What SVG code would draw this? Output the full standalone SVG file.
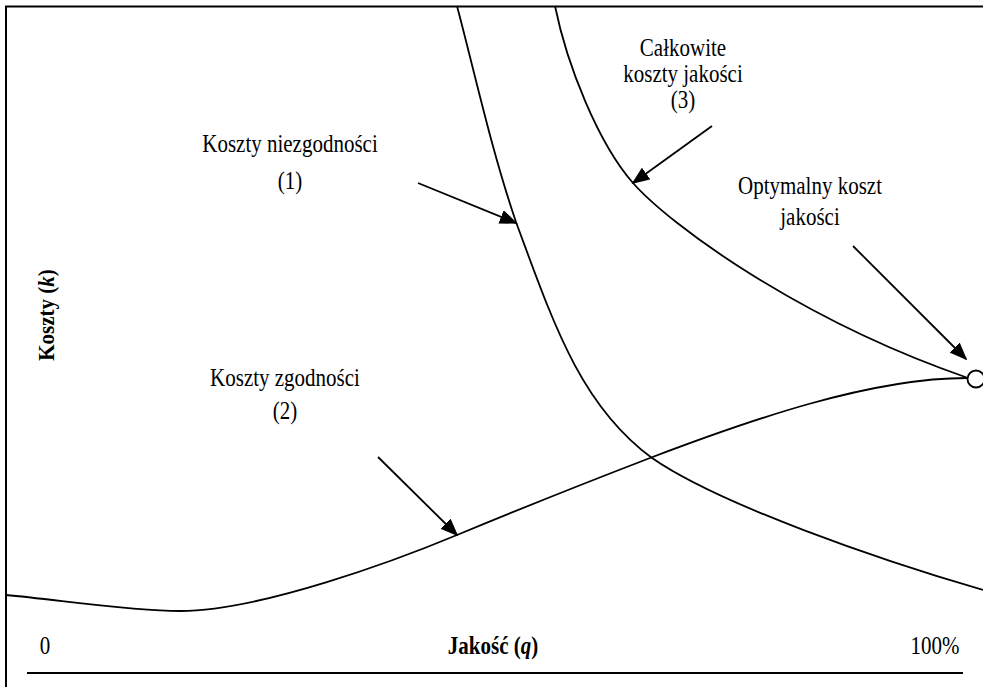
<svg xmlns="http://www.w3.org/2000/svg" width="983" height="687" viewBox="0 0 983 687">
<style>
.frame{fill:none;stroke:#000;stroke-width:2}
.curve{fill:none;stroke:#000;stroke-width:1.8}
.arrow{fill:none;stroke:#000;stroke-width:1.8;marker-end:url(#ah)}
text{font-family:"Liberation Serif","DejaVu Serif","Times New Roman",serif;font-size:21px;fill:#000;text-anchor:middle}
.b{font-weight:bold}
</style>
<defs>
<marker id="ah" markerWidth="10" markerHeight="8" refX="9" refY="4" orient="auto" markerUnits="strokeWidth">
<path d="M0,0 L10,4 L0,8 Z" fill="#000"/>
</marker>
</defs>
<rect width="983" height="687" fill="#fff"/>
<g id="frame">
<path class="frame" d="M6,687 V6.5 H983"/>
<line x1="27" y1="673" x2="963" y2="673" stroke="#000" stroke-width="2"/>
</g>
<g id="curves">
<path id="c1" class="curve" d="M457,6 C476,78 491.5,150 516,222 C553,322 580,405 652,458 C720,505 880,560 983,590"/>
<path id="c3" class="curve" d="M555,6 C567,65 598,143 633,183 C670,225 800,320 968,378"/>
<path id="c2" class="curve" d="M6,595 C60,600 130,611 180,611 C260,611 397,560 457,535 C522,508 585,483 650,458 C750,420 870,378 967,378"/>
</g>
<g id="optimum">
<circle cx="976" cy="379" r="8.5" fill="#fff" stroke="#000" stroke-width="1.8"/>
</g>
<g id="connectors">
<line class="arrow" x1="418" y1="183" x2="516" y2="223"/>
<line class="arrow" x1="712" y1="126" x2="633" y2="183"/>
<line class="arrow" x1="853" y1="246" x2="966" y2="359"/>
<line class="arrow" x1="378" y1="457" x2="457" y2="535"/>
</g>
<g id="label-total">
<text transform="translate(683,56) scale(1,1.18)">Całkowite</text>
<text transform="translate(683,82) scale(1,1.18)">koszty jakości</text>
<text transform="translate(683,108) scale(1,1.18)">(3)</text>
</g>
<g id="label-nonconf">
<text transform="translate(290,152) scale(1,1.18)">Koszty niezgodności</text>
<text transform="translate(290,189) scale(1,1.18)">(1)</text>
</g>
<g id="label-optimal">
<text transform="translate(810,194) scale(1,1.18)">Optymalny koszt</text>
<text transform="translate(810,225) scale(1,1.18)">jakości</text>
</g>
<g id="label-conf">
<text transform="translate(285,386) scale(1,1.18)">Koszty zgodności</text>
<text transform="translate(285,419) scale(1,1.18)">(2)</text>
</g>
<g id="axes-labels">
<text class="b" transform="translate(54,315) rotate(-90) scale(1,1.1)">Koszty (<tspan font-style="italic">k</tspan>)</text>
<text transform="translate(45,654) scale(1,1.18)">0</text>
<text class="b" transform="translate(493,654) scale(1,1.18)">Jakość (<tspan font-style="italic">q</tspan>)</text>
<text transform="translate(935,654) scale(1,1.18)">100%</text>
</g>
</svg>
